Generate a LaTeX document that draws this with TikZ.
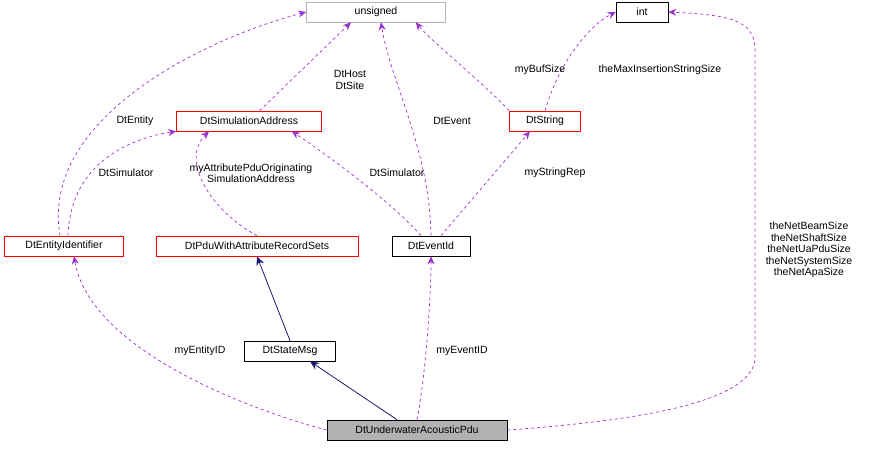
\documentclass[tikz,border=0pt]{standalone}
\usepackage{fontspec}
\setmainfont{Liberation Sans}
\usetikzlibrary{positioning,arrows.meta}
\definecolor{usecol}{HTML}{9A32CD}
\definecolor{inhcol}{HTML}{191970}
\begin{document}
\begin{tikzpicture}[x=1pt,y=-1pt,font=\fontsize{10.5}{12}\selectfont,
                    cls/.style={draw,fill=white,inner sep=2pt,minimum height=20pt,line width=0.6pt},
                    red cls/.style={cls,draw=red},
                    use/.style={draw=usecol,dashed,line width=0.7pt,-{Stealth[length=8pt,width=7pt]}},
                    inh/.style={draw=inhcol,line width=0.8pt,-{Stealth[length=9pt,width=8pt]}},
                    lbl/.style={align=center,inner sep=1pt,font=\fontsize{10.5}{11.5}\selectfont}
                   ]
  \useasboundingbox (0,0) rectangle (871,448);
  \node[cls,draw=gray!60,minimum width=139pt] (unsigned) at (376,12) {unsigned};
  \node[cls,minimum width=52pt] (int) at (642,12) {int};
  \node[red cls,minimum width=145pt] (simaddr) at (249,121) {DtSimulationAddress};
  \node[red cls,minimum width=71pt] (string) at (545,121) {DtString};
  \node[red cls,minimum width=119pt] (entity) at (64,246) {DtEntityIdentifier};
  \node[red cls,minimum width=202pt] (pduattr) at (257,246) {DtPduWithAttributeRecordSets};
  \node[cls,minimum width=78pt] (eventid) at (431,246) {DtEventId};
  \node[cls,minimum width=91pt] (statemsg) at (290,351) {DtStateMsg};
  \node[cls,fill=gray!60,minimum width=180pt] (uapdu) at (417,430) {DtUnderwaterAcousticPdu};

  % usage relations
  \draw[use] (simaddr) -- ([xshift=-25pt]unsigned.south);
  \draw[use] ([xshift=-4pt]entity.north) .. controls (40,120) and (200,40) .. (unsigned.west);
  \draw[use] ([xshift=4pt]entity.north) .. controls (70,170) and (120,140) .. (simaddr.south west);
  \draw[use] (pduattr.north) .. controls (210,210) and (180,160) .. ([xshift=-40pt]simaddr.south);
  \draw[use] ([xshift=-10pt]eventid.north) .. controls (390,200) and (320,150) .. ([xshift=-30pt]simaddr.south east);
  \draw[use] (eventid.north) .. controls (430,150) and (390,80) .. ([xshift=5pt]unsigned.south);
  \draw[use] (string.north west) .. controls (480,80) and (430,40) .. ([xshift=-30pt]unsigned.south east);
  \draw[use] (string.north) .. controls (560,60) and (590,25) .. (int.west);
  \draw[use] ([xshift=10pt]eventid.north) -- ([xshift=-15pt]string.south);
  \draw[use] (uapdu.west) .. controls (250,410) and (90,350) .. ([xshift=10pt]entity.south);
  \draw[use] ([xshift=0pt]uapdu.north) .. controls (425,380) and (431,300) .. (eventid.south);
  \draw[use] (uapdu.east) .. controls (650,420) and (750,400) .. (755,360)
             -- (755,50) .. controls (755,20) and (730,15) .. (int.east);

  % inheritance
  \draw[inh] (statemsg.north) -- (pduattr.south);
  \draw[inh] ([xshift=-20pt]uapdu.north) -- ([xshift=20pt]statemsg.south);

  % labels
  \node[lbl] at (350,80) {DtHost\\DtSite};
  \node[lbl] at (135,121) {DtEntity};
  \node[lbl] at (126,173) {DtSimulator};
  \node[lbl] at (251,173) {myAttributePduOriginating\\SimulationAddress};
  \node[lbl] at (397,173) {DtSimulator};
  \node[lbl] at (452,121) {DtEvent};
  \node[lbl] at (540,70) {myBufSize};
  \node[lbl] at (660,70) {theMaxInsertionStringSize};
  \node[lbl] at (555,173) {myStringRep};
  \node[lbl] at (200,351) {myEntityID};
  \node[lbl] at (462,351) {myEventID};
  \node[lbl] at (809,250) {theNetBeamSize\\theNetShaftSize\\theNetUaPduSize\\theNetSystemSize\\theNetApaSize};
\end{tikzpicture}
\end{document}
